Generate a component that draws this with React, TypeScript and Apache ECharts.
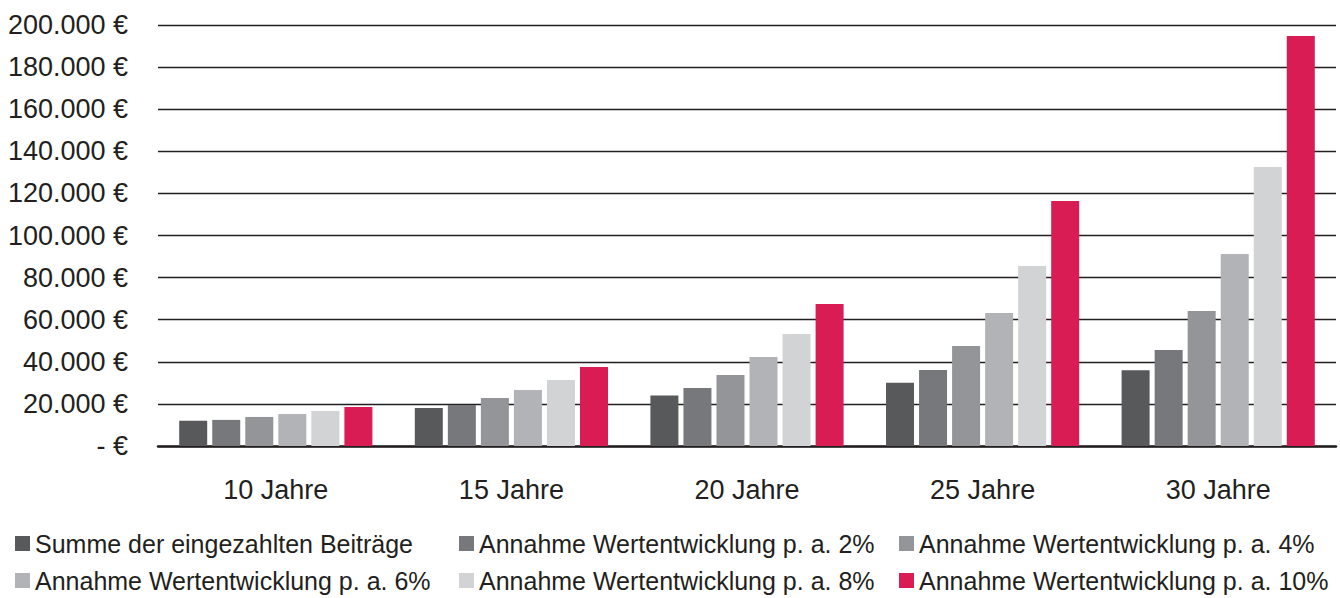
import React, { useEffect, useRef } from "react";
import * as echarts from "echarts";

const categories = ["10 Jahre", "15 Jahre", "20 Jahre", "25 Jahre", "30 Jahre"];
const seriesNames = [
  "Summe der eingezahlten Beiträge",
  "Annahme Wertentwicklung p. a. 2%",
  "Annahme Wertentwicklung p. a. 4%",
  "Annahme Wertentwicklung p. a. 6%",
  "Annahme Wertentwicklung p. a. 8%",
  "Annahme Wertentwicklung p. a. 10%",
];
const beitraege = [12000, 18000, 24000, 30000, 36000];
const rate2 = [12400, 19500, 27600, 36100, 45600];
const rate4 = [13800, 22800, 33700, 47500, 64100];
const rate6 = [15200, 26600, 42300, 63200, 91200];
const rate8 = [16600, 31400, 53200, 85500, 132500];
const rate10 = [18500, 37500, 67500, 116400, 194800];
const seriesValues = [beitraege, rate2, rate4, rate6, rate8, rate10];
const colors = ["#58595b", "#77787b", "#939598", "#b1b3b6", "#d1d3d4", "#d91c53"];

const legendPos = [
  { left: 15, top: 531 },
  { left: 459, top: 531 },
  { left: 899, top: 531 },
  { left: 15, top: 568 },
  { left: 459, top: 568 },
  { left: 899, top: 568 },
];

const fmt = (v: number) =>
  v === 0 ? "- €" : String(v).replace(/\B(?=(\d{3})+(?!\d))/g, ".") + " €";

export default function App() {
  const ref = useRef<HTMLDivElement>(null);
  useEffect(() => {
    const chart = echarts.init(ref.current!, undefined, { renderer: "svg" });
    const font = "'Liberation Sans', Arial, sans-serif";
    chart.setOption({
      animation: false,
      backgroundColor: "#ffffff",
      grid: { left: 158, right: 4, top: 25, bottom: 152, containLabel: false },
      xAxis: {
        type: "category",
        data: categories,
        axisLine: { show: true, lineStyle: { color: "#231f20", width: 2.5 } },
        axisTick: { show: false },
        axisLabel: { color: "#231f20", fontSize: 27, fontFamily: font, margin: 30 },
      },
      yAxis: {
        type: "value",
        min: 0,
        max: 200000,
        interval: 20000,
        axisLine: { show: false },
        axisTick: { show: false },
        axisLabel: {
          color: "#231f20",
          fontSize: 27,
          fontFamily: font,
          margin: 30,
          formatter: fmt,
        },
        splitLine: { lineStyle: { color: "#231f20", width: 1.4 } },
      },
      legend: seriesNames.map((n, i) => ({
        data: [n],
        left: legendPos[i].left,
        top: legendPos[i].top,
        icon: "rect",
        itemWidth: 15,
        itemHeight: 15,
        itemGap: 0,
        padding: 0,
        selectedMode: false,
        textStyle: { color: "#231f20", fontSize: 25, fontFamily: font, padding: [0, 0, 0, 0] },
      })),
      series: seriesNames.map((n, i) => ({
        name: n,
        type: "bar",
        data: seriesValues[i],
        barWidth: 28,
        barGap: "18%",
        itemStyle: { color: colors[i] },
      })),
    });
    return () => chart.dispose();
  }, []);
  return (
    <div
      ref={ref}
      style={{ position: "fixed", left: 0, top: 0, width: 1340, height: 598 }}
    />
  );
}
